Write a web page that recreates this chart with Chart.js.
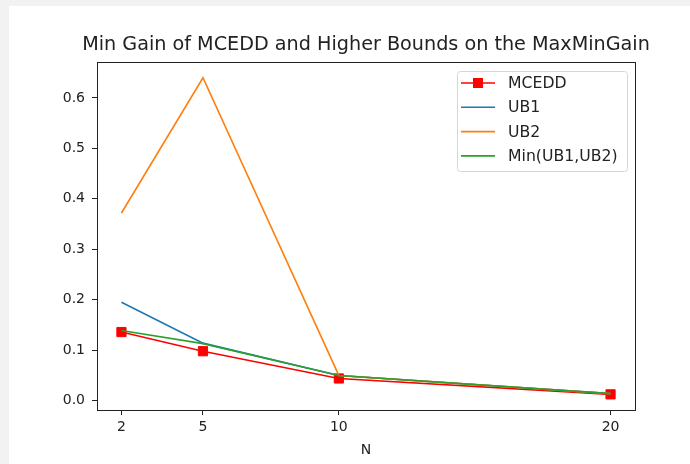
<!DOCTYPE html>
<html>
<head>
<meta charset="utf-8">
<script src="https://cdn.jsdelivr.net/npm/chart.js@4"></script>
<style>
  html, body { margin: 0; padding: 0; background: #f2f2f2; }
  #wrap { position: absolute; left: 9px; top: 6px; width: 681px; height: 458px; background: #fff; }
</style>
</head>
<body>
<div id="wrap"><canvas id="chart" width="681" height="458"></canvas></div>
<script>
// values
const nValues = [2, 5, 10, 20];
const mcedd = [0.136, 0.098, 0.044, 0.0125];
const ub1 = [0.195, 0.114, 0.050, 0.014];
const ub2 = [0.372, 0.640, 0.050, 0.014];
const minUb = [0.139, 0.113, 0.050, 0.014];
const xTicks = [2, 5, 10, 20];
const yTicks = [0.0, 0.1, 0.2, 0.3, 0.4, 0.5, 0.6];
const chartTitle = 'Min Gain of MCEDD and Higher Bounds on the MaxMinGain';

const FONT = 'DejaVu Sans';
const TEXT = '#222';

function points(ys) {
    return nValues.map((n, i) => ({ x: n, y: ys[i] }));
}

// title, axes frame + matplotlib-like legend box
const framePlugin = {
    id: 'frame',
    afterDraw(chart) {
        const ctx = chart.ctx;
        const a = chart.chartArea;
        ctx.save();

        // title centred over the axes (Chart.js title squeezes it to the box width)
        ctx.fillStyle = TEXT;
        ctx.font = '19.2px "' + FONT + '"';
        ctx.textAlign = 'center';
        ctx.textBaseline = 'middle';
        ctx.fillText(chartTitle, (a.left + a.right) / 2, a.top - 17);
        ctx.textAlign = 'left';

        ctx.strokeStyle = '#222';
        ctx.lineWidth = 1;
        ctx.strokeRect(Math.round(a.left) + 0.5, Math.round(a.top) + 0.5,
            Math.round(a.right - a.left), Math.round(a.bottom - a.top));

        // legend
        const boxL = a.right - 178, boxT = a.top + 9, boxW = 170, boxH = 100;
        ctx.fillStyle = 'rgba(255,255,255,0.8)';
        ctx.strokeStyle = '#d6d6d6';
        ctx.beginPath();
        ctx.roundRect(boxL + 0.5, boxT + 0.5, boxW, boxH, 3);
        ctx.fill();
        ctx.stroke();

        ctx.font = '15.7px "' + FONT + '"';
        chart.data.datasets.forEach((ds, i) => {
            const y = boxT + 12 + i * 24.3;
            ctx.strokeStyle = ds.borderColor;
            ctx.lineWidth = 1.6;
            ctx.beginPath();
            ctx.moveTo(boxL + 4, y);
            ctx.lineTo(boxL + 38, y);
            ctx.stroke();
            if (ds.pointRadius > 0) {
                ctx.fillStyle = ds.pointBackgroundColor;
                ctx.fillRect(boxL + 21 - 5, y - 5, 10, 10);
            }
            ctx.fillStyle = TEXT;
            ctx.fillText(ds.label, boxL + 51, y + 1);
        });
        ctx.restore();
    }
};

new Chart(document.getElementById('chart'), {
    type: 'line',
    data: {
        datasets: [
            {
                label: 'MCEDD', data: points(mcedd), borderColor: '#ff0000',
                pointStyle: 'rect', pointRadius: 6.5, pointBackgroundColor: '#ff0000',
                pointBorderColor: '#ff0000', pointBorderWidth: 1, order: 4
            },
            { label: 'UB1', data: points(ub1), borderColor: '#1f77b4', pointRadius: 0, order: 3 },
            { label: 'UB2', data: points(ub2), borderColor: '#ff7f0e', pointRadius: 0, order: 2 },
            { label: 'Min(UB1,UB2)', data: points(minUb), borderColor: '#2ca02c', pointRadius: 0, order: 1 }
        ]
    },
    options: {
        responsive: false,
        animation: false,
        events: [],
        elements: { line: { borderWidth: 1.6, tension: 0, fill: false } },
        layout: { padding: { left: 0, right: 55, top: 56, bottom: 0 } },
        plugins: {
            legend: { display: false },
            tooltip: { enabled: false },
            title: { display: false }
        },
        scales: {
            x: {
                type: 'linear',
                min: 1.1,
                max: 20.9,
                afterBuildTicks(scale) { scale.ticks = xTicks.map(v => ({ value: v })); },
                afterFit(scale) { scale.height = 54; },
                grid: { drawOnChartArea: false, drawTicks: true, tickLength: 5, tickColor: '#222' },
                border: { display: false },
                ticks: {
                    color: TEXT, padding: 4, maxRotation: 0, autoSkip: false,
                    font: { family: FONT, size: 14 },
                    callback: v => String(v)
                },
                title: {
                    display: true, text: 'N', color: TEXT,
                    font: { family: FONT, size: 14, lineHeight: 1.2 },
                    padding: { top: 5.6, bottom: 5.6 }
                }
            },
            y: {
                type: 'linear',
                min: -0.0185,
                max: 0.6712,
                afterBuildTicks(scale) { scale.ticks = yTicks.map(v => ({ value: v })); },
                afterFit(scale) { scale.width = 88; },
                grid: { drawOnChartArea: false, drawTicks: true, tickLength: 5, tickColor: '#222' },
                border: { display: false },
                ticks: {
                    color: TEXT, padding: 7, autoSkip: false,
                    font: { family: FONT, size: 14 },
                    callback: v => v.toFixed(1)
                }
            }
        }
    },
    plugins: [framePlugin]
});
</script>
</body>
</html>
